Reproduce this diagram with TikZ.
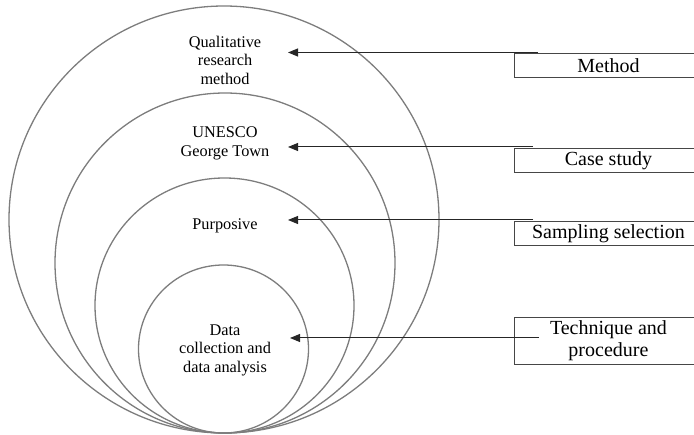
\documentclass[tikz,border=0pt]{standalone}
\usepackage{fontspec}
\setmainfont{Liberation Serif}
\newfontfamily\tnr{Liberation Serif}
\usetikzlibrary{arrows.meta}
\definecolor{ringgray}{RGB}{125,125,125}
\definecolor{boxgray}{RGB}{70,70,70}
\begin{document}
\begin{tikzpicture}[x=1pt,y=-1pt,
  ring/.style={draw=ringgray,line width=1.3pt},
  lbl/.style={align=center,font=\tnr\fontsize{16.3}{18.5}\selectfont,inner sep=0pt},
  tag/.style={draw=boxgray,line width=0.9pt,minimum width=188pt,inner sep=0pt,
    font=\tnr\fontsize{20}{22}\selectfont,anchor=north west,align=center},
  link/.style={draw=black!85,line width=1pt,-{Triangle[length=10pt,width=8pt]}}]
\useasboundingbox (0,0) rectangle (694,435);
% nested ellipses, all touching at the bottom
\draw[ring] (224,219.5) ellipse [x radius=215, y radius=213.5];
\draw[ring] (225,263) ellipse [x radius=170, y radius=170];
\draw[ring] (224.5,305.5) ellipse [x radius=129.5, y radius=127.5];
\draw[ring] (223.5,349) ellipse [x radius=85, y radius=84];
% labels inside
\node[lbl] (qual) at (225,60) {Qualitative\\research\\method};
\node[lbl] (unesco) at (225,143.5) {UNESCO\\George Town};
\node[lbl] (purp) at (225,226) {Purposive};
\node[lbl] (data) at (225,350) {Data\\collection and\\data analysis};
% boxes
\node[tag,minimum height=24pt] (mbox) at (514,53) {Method};
\node[tag,minimum height=24pt] (cbox) at (514,148) {Case study};
\node[tag,minimum height=24pt] (sbox) at (514,221) {Sampling selection};
\node[tag,minimum height=47pt] (tbox) at (514,317) {Technique and\\procedure};
% connector ends
\coordinate (m0) at (538,52.5); \coordinate (m1) at (288,52.5);
\coordinate (c0) at (533,147);  \coordinate (c1) at (288,147);
\coordinate (s0) at (533,220);  \coordinate (s1) at (288,220);
\coordinate (t0) at (539,338);  \coordinate (t1) at (290,338);
\draw[link] (m0) -- (m1);
\draw[link] (c0) -- (c1);
\draw[link] (s0) -- (s1);
\draw[link] (t0) -- (t1);
\end{tikzpicture}
\end{document}
